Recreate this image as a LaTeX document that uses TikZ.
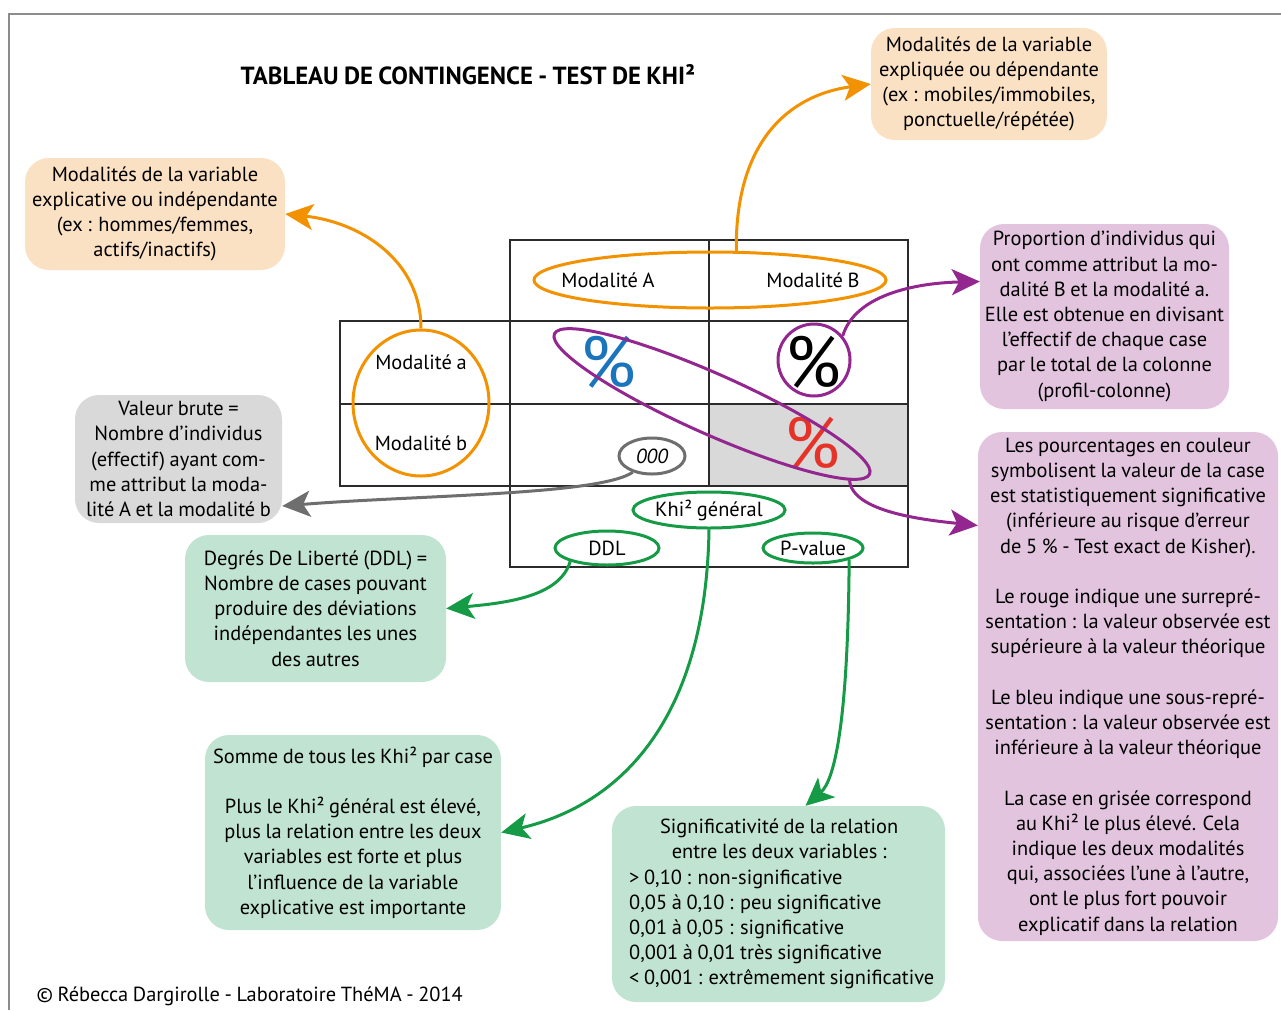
\documentclass[tikz,border=0pt]{standalone}
\usepackage{fontspec}
\setmainfont[WordSpace=0.85]{PT Sans}
\usetikzlibrary{arrows.meta,shapes.geometric}
\definecolor{cOrange}{HTML}{F39200}
\definecolor{cOrFill}{HTML}{FBE1C3}
\definecolor{cPurple}{HTML}{93278F}
\definecolor{cPuFill}{HTML}{E3C4DF}
\definecolor{cGreen}{HTML}{159A45}
\definecolor{cGrFill}{HTML}{C0E4D1}
\definecolor{cGray}{HTML}{6E6E6E}
\definecolor{cGrayFill}{HTML}{D9D9D9}
\definecolor{cBlue}{HTML}{1A75BC}
\definecolor{cRed}{HTML}{E6332A}
\definecolor{cFrame}{HTML}{8C8C8C}
\definecolor{cLine}{HTML}{2B2B2B}
\begin{document}
\begin{tikzpicture}[x=1pt,y=-1pt,font=\fontsize{20.4}{25.2}\selectfont,
  box/.style={rounded corners=24pt,inner sep=0pt,align=center},
  ring/.style={ellipse,inner sep=0pt,line width=3pt},
  conn/.style={line width=3pt,-{Stealth[length=28pt,width=26pt,inset=7pt]}},
  tline/.style={line width=1.6pt,draw=cLine},
  big/.style={font=\fontsize{72}{72}\selectfont}]
\useasboundingbox (0,0) rectangle (1281,1010);
% frame
\draw[cFrame,line width=1.5pt] (9,1010) -- (9,14) -- (1281,14);
% title
\node[font=\bfseries\fontsize{24.8}{28}\selectfont] (title) at (468,75) {TABLEAU DE CONTINGENCE - TEST DE KHI²};
% boxes
\node[box,fill=cOrFill,minimum width=236pt,minimum height=112pt] (b1) at (989,84)
  {Modalités de la variable\\ expliquée ou dépendante\\ (ex : mobiles/immobiles,\\ ponctuelle/répétée)};
\node[box,fill=cOrFill,minimum width=260pt,minimum height=112pt] (b2) at (155,214)
  {Modalités de la variable\\ explicative ou indépendante\\ (ex : hommes/femmes,\\ actifs/inactifs)};
\node[box,fill=cPuFill,minimum width=249pt,minimum height=185pt] (b3) at (1104.5,316.5)
  {Proportion d’individus qui\\ ont comme attribut la mo-\\ dalité B et la modalité a.\\ Elle est obtenue en divisant\\ l’effectif de chaque case\\ par le total de la colonne\\ (profil-colonne)};
\node[box,fill=cGrayFill,minimum width=207pt,minimum height=128pt] (b4) at (178.5,459)
  {Valeur brute =\\ Nombre d’individus\\ (effectif) ayant com-\\ me attribut la moda-\\ lité A et la modalité b};
\node[box,fill=cGrFill,minimum width=261pt,minimum height=147pt] (b5) at (315.5,608.5)
  {Degrés De Liberté (DDL) =\\ Nombre de cases pouvant\\ produire des déviations\\ indépendantes les unes\\ des autres};
\node[box,fill=cPuFill,minimum width=300pt,minimum height=509pt] (b6) at (1128,686.5)
  {Les pourcentages en couleur\\ symbolisent la valeur de la case\\ est statistiquement significative\\ (inférieure au risque d’erreur\\ de 5 \% - Test exact de Kisher).\\[25.2pt]
   Le rouge indique une surrepré-\\ sentation : la valeur observée est\\ supérieure à la valeur théorique\\[25.2pt]
   Le bleu indique une sous-repré-\\ sentation : la valeur observée est\\ inférieure à la valeur théorique\\[25.2pt]
   La case en grisée correspond\\ au Khi² le plus élevé. Cela\\ indique les deux modalités\\ qui, associées l’une à l’autre,\\ ont le plus fort pouvoir\\ explicatif dans la relation};
\node[box,fill=cGrFill,minimum width=296pt,minimum height=195pt] (b7) at (353,832.5)
  {Somme de tous les Khi² par case\\[25.2pt] Plus le Khi² général est élevé,\\ plus la relation entre les deux\\ variables est forte et plus\\ l’influence de la variable\\ explicative est importante};
\node[rounded corners=24pt,fill=cGrFill,minimum width=333pt,minimum height=196pt] (b8) at (778.5,904) {};
\node[align=left,inner sep=0pt,anchor=west] (b8t) at (629,904)
  {\hbox to 300pt{\hfil Significativité de la relation\hfil}\\
   \hbox to 300pt{\hfil entre les deux variables :\hfil}\\
   > 0,10 : non-significative\\ 0,05 à 0,10 : peu significative\\ 0,01 à 0,05 : significative\\ 0,001 à 0,01 très significative\\ < 0,001 : extrêmement significative};
% table
\fill[cGrayFill] (709,404) rectangle (908,486);
\draw[tline] (510,240) rectangle (908,567);
\draw[tline] (340,321) rectangle (510,486);
\draw[tline] (510,321) -- (908,321);
\draw[tline] (340,404) -- (908,404);
\draw[tline] (510,486) -- (908,486);
\draw[tline] (709,240) -- (709,486);
% table texts
\node (tA) at (608,280) {Modalité A};
\node (tB) at (813,280) {Modalité B};
\node (ta) at (421,362) {Modalité a};
\node (tb) at (421,443) {Modalité b};
\node[big,text=cBlue] (pBlue) at (608,362) {\%};
\node[big] (pBlack) at (813,362) {\%};
\node[big,text=cRed] (pRed) at (812,443) {\%};
% rings
\node[ring,draw=cOrange,minimum width=352pt,minimum height=56pt] (eAB) at (710,280) {};
\node[ring,draw=cOrange,minimum width=136pt,minimum height=146pt] (eab) at (421,403) {};
\node[circle,inner sep=0pt,line width=3pt,draw=cPurple,minimum size=72pt] (cP) at (814,360) {};
\node[ring,draw=cPurple,minimum width=345pt,minimum height=60pt,rotate=-24] (eD) at (712,404) {};
\node[ring,draw=cGray,minimum width=66pt,minimum height=36pt,font=\itshape\fontsize{20.4}{25.2}\selectfont] (e0) at (652,456) {000};
\node[ring,draw=cGreen,minimum width=140pt,minimum height=36pt] (eK) at (709,510) {Khi² général};
\node[ring,draw=cGreen,minimum width=104pt,minimum height=34pt] (eDDL) at (607,548) {DDL};
\node[ring,draw=cGreen,minimum width=100pt,minimum height=30pt] (eP) at (813,548) {P-value};
% connectors
\draw[conn,cOrange] (eAB.48) .. controls (735,140) and (790,95) .. (b1.west);
\draw[conn,cOrange] (eab.north) .. controls (421,260) and (360,222) .. (b2.east);
\draw[conn,cPurple] (cP.40) .. controls (855,295) and (915,283) .. ([yshift=35pt]b3.west);
\draw[conn,cPurple] (eD.-5) .. controls (852,512) and (925,520) .. ([yshift=161pt]b6.west);
\draw[conn,cGray] (e0.220) .. controls (600,495) and (420,495) .. ([yshift=-47pt]b4.east);
\draw[conn,cGreen] (eDDL.200) .. controls (560,597) and (505,603) .. (b5.east);
\draw[conn,cGreen] (eK.south) .. controls (706,720) and (620,805) .. (b7.east);
\draw[conn,cGreen] (eP.-18) .. controls (848,720) and (835,780) .. ([xshift=27pt]b8.north);
% footer
\node[anchor=west] (copy) at (33,996) {© Rébecca Dargirolle - Laboratoire ThéMA - 2014};
\end{tikzpicture}
\end{document}
